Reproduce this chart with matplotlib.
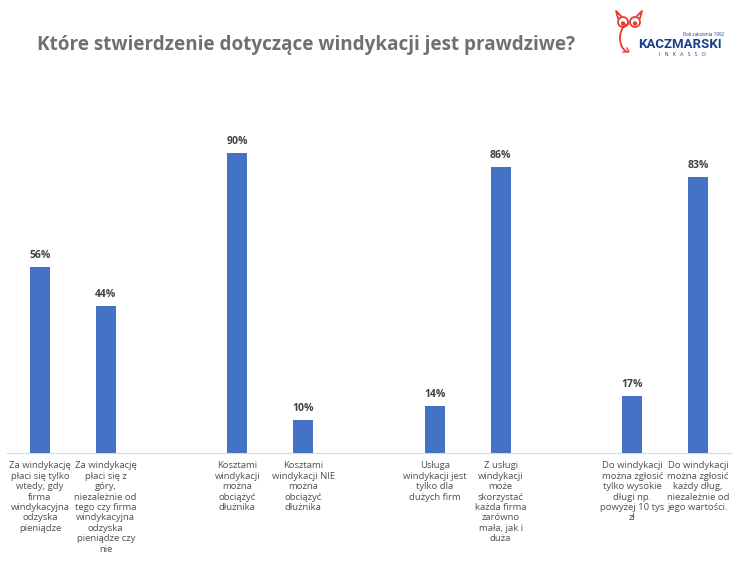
import numpy as np
import matplotlib.pyplot as plt
from matplotlib.patches import Circle, Arc

plt.rcParams['font.family'] = ['Open Sans', 'DejaVu Sans']

title = "Które stwierdzenie dotyczące windykacji jest prawdziwe?"
positions = [0, 1, 3, 4, 6, 7, 9, 10]
values = [56, 44, 90, 10, 14, 86, 17, 83]
labels = [
    "Za windykację\npłaci się tylko\nwtedy, gdy\nfirma\nwindykacyjna\nodzyska\npieniądze",
    "Za windykację\npłaci się z\ngóry,\nniezależnie od\ntego czy firma\nwindykacyjna\nodzyska\npieniądze czy\nnie",
    "Kosztami\nwindykacji\nmożna\nobciążyć\ndłużnika",
    "Kosztami\nwindykacji NIE\nmożna\nobciążyć\ndłużnika",
    "Usługa\nwindykacji jest\ntylko dla\ndużych firm",
    "Z usługi\nwindykacji\nmoże\nskorzystać\nkażda firma\nzarówno\nmała, jak i\nduża",
    "Do windykacji\nmożna zgłosić\ntylko wysokie\ndługi np.\npowyżej 10 tys\nzł",
    "Do windykacji\nmożna zgłosić\nkażdy dług,\nniezależnie od\njego wartości.",
]

W, H = 756, 574
fig = plt.figure(figsize=(W / 100, H / 100), dpi=100)
ax = fig.add_axes([7 / W, 1 - 453 / H, 724 / W, 333 / H])

bars = ax.bar(positions, values, width=0.3, color="#4472C4")
for x, v in zip(positions, values):
    ax.text(x, v + 1.8, f"{v}%", ha="center", va="bottom", fontsize=7.5,
            color="#404040", fontweight="bold")

ax.set_xlim(-0.5, 10.5)
ax.set_ylim(0, 100)
ax.set_yticks([])
ax.set_xticks(positions)
ax.set_xticklabels(labels, fontsize=6.8, color="#505050", linespacing=1.2)
ax.tick_params(axis="x", length=0, pad=6)
for s in ["top", "right", "left"]:
    ax.spines[s].set_visible(False)
ax.spines["bottom"].set_color("#D9D9D9")

fig.text(37 / W, 1 - 45 / H, title, fontsize=13.6, fontweight="bold",
         color="#707070", va="center", ha="left")

# logo
lg = fig.add_axes([612 / W, 1 - 60 / H, 115 / W, 52 / H])
lg.set_xlim(0, 115)
lg.set_ylim(52, 0)
lg.axis("off")
red = "#E63B2E"
blue = "#1B3F8F"
for cx in (11, 23):
    lg.add_patch(Circle((cx, 14), 5.0, fill=False, ec=red, lw=1.3))
    lg.add_patch(Circle((cx, 15.5), 1.5, color=red))
lg.plot([6, 4, 9], [10, 3, 8], color=red, lw=1.3)
lg.plot([28, 30, 25], [10, 3, 8], color=red, lw=1.3)
lg.add_patch(Arc((17, 30), 18, 28, theta1=100, theta2=270, color=red, lw=1.3))
lg.plot([11, 17, 15], [44, 44, 40], color=red, lw=1.0)
lg.text(92, 27, "Rok założenia 1992", fontsize=3.3, color=blue, ha="center",
        va="center")
lg.text(68, 36, "KACZMARSKI", fontsize=9.5, color=blue, fontweight="bold",
        ha="center", va="center", family=["Roboto", "DejaVu Sans"])
lg.text(70, 46, "I   N   K   A   S   S   O", fontsize=3.8, color=blue,
        ha="center", va="center")

fig.savefig("out.png", dpi=100, facecolor="white")
